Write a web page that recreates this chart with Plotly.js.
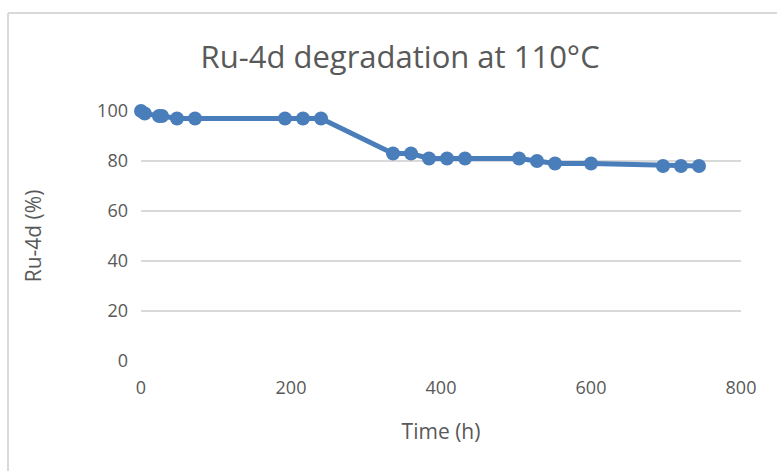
<!DOCTYPE html>
<html>
<head>
<meta charset="utf-8">
<script src="https://cdn.plot.ly/plotly-3.0.1.min.js"></script>
<style>html,body{margin:0;padding:0;background:#fff;}#chart{width:777px;height:471px;}</style>
</head>
<body>
<div id="chart"></div>
<script>
const timeHours = [0, 5, 24, 28, 48, 72, 192, 216, 240, 336, 360, 384, 408, 432, 504, 528, 552, 600, 696, 720, 744];
const ru4dPercent = [100, 99, 98, 98, 97, 97, 97, 97, 97, 83, 83, 81, 81, 81, 81, 80, 79, 79, 78, 78, 78];
const chartTitle = "Ru-4d degradation at 110°C";
const xTitle = "Time (h)";
const yTitle = "Ru-4d (%)";

const textColor = "#595959";
const fontFam = "'Open Sans', 'Liberation Sans', sans-serif";

const trace = {
  x: timeHours,
  y: ru4dPercent,
  type: "scatter",
  mode: "lines+markers",
  line: {color: "#4a7ebb", width: 5},
  marker: {color: "#4a7ebb", size: 14},
  cliponaxis: false,
  hoverinfo: "x+y"
};

const layout = {
  width: 777,
  height: 471,
  margin: {l: 141, r: 36, t: 111, b: 110},
  paper_bgcolor: "#ffffff",
  plot_bgcolor: "#ffffff",
  showlegend: false,
  title: {
    text: chartTitle,
    font: {family: fontFam, size: 31, color: textColor},
    x: 0.515, xanchor: "center",
    y: 0.878, yanchor: "middle"
  },
  xaxis: {
    range: [0, 800],
    tickvals: [0, 200, 400, 600, 800],
    showgrid: false,
    zeroline: false,
    showline: false,
    ticks: "",
    tickfont: {family: fontFam, size: 18, color: textColor},
    ticklabelstandoff: 14,
    title: {text: xTitle, font: {family: fontFam, size: 21, color: textColor}, standoff: 26}
  },
  yaxis: {
    range: [0, 100],
    tickvals: [0, 20, 40, 60, 80, 100],
    showgrid: true,
    gridcolor: "#d9d9d9",
    gridwidth: 1.3,
    zeroline: false,
    showline: false,
    ticks: "",
    tickfont: {family: fontFam, size: 18, color: textColor},
    ticklabelstandoff: 12,
    title: {text: yTitle, font: {family: fontFam, size: 21, color: textColor}, standoff: 49}
  },
  shapes: [
    {type: "line", xref: "paper", yref: "paper", x0: (8 - 141) / 600, x1: (8 - 141) / 600, y0: (361 - 13) / 250, y1: -0.5, line: {color: "#d9d9d9", width: 2}},
    {type: "line", xref: "paper", yref: "paper", x0: (8 - 141) / 600, x1: 1.2, y0: (361 - 13) / 250, y1: (361 - 13) / 250, line: {color: "#d9d9d9", width: 2}}
  ]
};

Plotly.newPlot("chart", [trace], layout, {displayModeBar: false, staticPlot: true});
</script>
</body>
</html>
